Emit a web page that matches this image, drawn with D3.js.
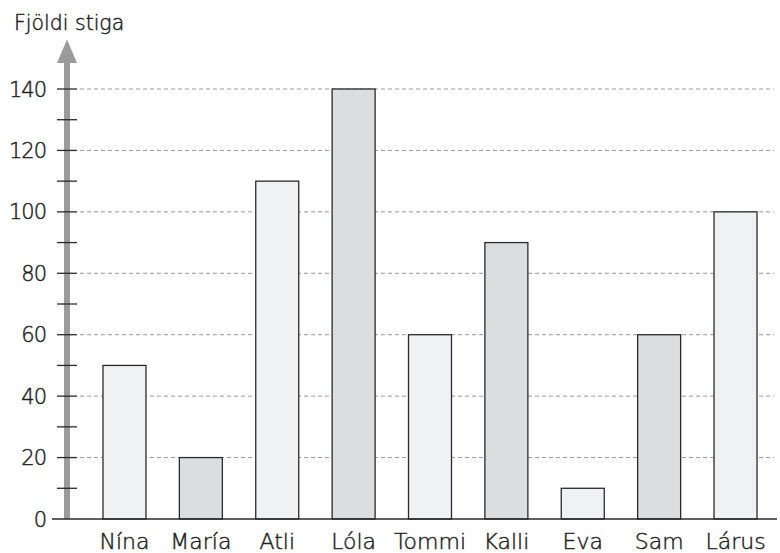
<!DOCTYPE html>
<html>
<head>
<meta charset="utf-8">
<script src="https://cdn.jsdelivr.net/npm/d3@7"></script>
<style>
  html, body { margin: 0; padding: 0; background: #fff; }
  svg { display: block; }
  text { font-family: "DejaVu Sans", sans-serif; font-weight: 200; fill: #1e1e1e; stroke: #1e1e1e; stroke-width: 0.45px; }
</style>
</head>
<body>
<svg id="chart" width="780" height="553"></svg>
<script>
const categories = ["Nína", "María", "Atli", "Lóla", "Tommi", "Kalli", "Eva", "Sam", "Lárus"];
const values = [50, 20, 110, 140, 60, 90, 10, 60, 100];
const barShades = ["light", "dark", "light", "dark", "light", "dark", "light", "dark", "light"];
const yLabelTicks = [0, 20, 40, 60, 80, 100, 120, 140];
const yMinorTicks = [10, 20, 30, 40, 50, 60, 70, 80, 90, 100, 110, 120, 130, 140];
const gridTicks = [20, 40, 60, 80, 100, 120, 140];
const yTitle = "Fjöldi stiga";

const svg = d3.select("#chart");
const colors = { light: "#f0f1f3", dark: "#dcdddf" };

const x = d3.scaleBand().domain(categories).range([86.3, 773.7]).paddingInner(0.437).paddingOuter(0.2185);
const y = d3.scaleLinear().domain([0, 140]).range([519, 89]);

// gridlines
svg.append("g").selectAll("line").data(gridTicks).join("line")
  .attr("x1", 80).attr("x2", 774)
  .attr("y1", d => y(d)).attr("y2", d => y(d))
  .attr("stroke", "#9a9a9a").attr("stroke-width", 1)
  .attr("stroke-dasharray", "4,3");

// bars
svg.append("g").selectAll("rect").data(categories).join("rect")
  .attr("x", d => x(d))
  .attr("y", (d, i) => y(values[i]))
  .attr("width", x.bandwidth())
  .attr("height", (d, i) => y(0) - y(values[i]))
  .attr("fill", (d, i) => colors[barShades[i]])
  .attr("stroke", "#2a2a2a").attr("stroke-width", 1.3);

// vertical axis arrow (gray)
const axisX = 67;
svg.append("rect").attr("x", axisX - 3).attr("y", 60).attr("width", 6).attr("height", y(0) - 60)
  .attr("fill", "#9b9b9b");
svg.append("path")
  .attr("d", `M${axisX},39.5 L${axisX + 10},63 L${axisX - 10},63 Z`)
  .attr("fill", "#9b9b9b");

// tick marks
svg.append("g").selectAll("line").data(yMinorTicks).join("line")
  .attr("x1", 57).attr("x2", 77)
  .attr("y1", d => y(d)).attr("y2", d => y(d))
  .attr("stroke", "#2a2a2a").attr("stroke-width", 1.3);

// baseline
svg.append("line").attr("x1", 52).attr("x2", 777).attr("y1", y(0)).attr("y2", y(0))
  .attr("stroke", "#2a2a2a").attr("stroke-width", 1.5);

// y tick labels
svg.append("g").selectAll("text").data(yLabelTicks).join("text")
  .attr("x", 46).attr("y", d => y(d))
  .attr("dy", "0.36em")
  .attr("text-anchor", "end")
  .attr("font-size", 21)
  .attr("letter-spacing", -1)
  .text(d => d);

// category labels
svg.append("g").selectAll("text").data(categories).join("text")
  .attr("x", d => x(d) + x.bandwidth() / 2)
  .attr("y", 549)
  .attr("text-anchor", "middle")
  .attr("font-size", 22)
  .text(d => d);

// y title
svg.append("text").attr("x", 14).attr("y", 30)
  .attr("font-size", 20.5)
  .text(yTitle);
</script>
</body>
</html>
